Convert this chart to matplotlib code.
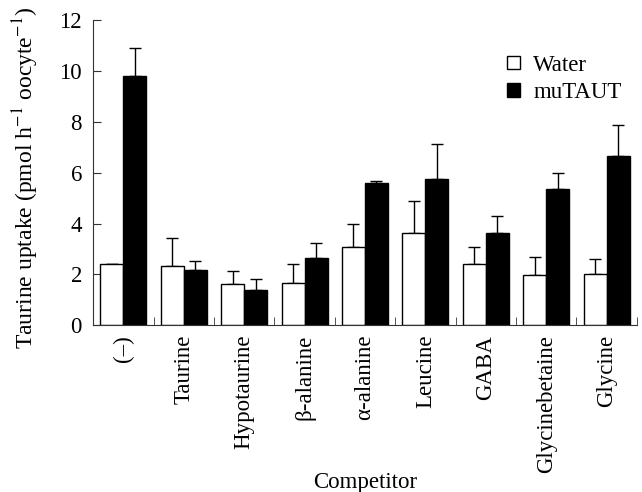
import numpy as np
import matplotlib
matplotlib.use('Agg')
import matplotlib.pyplot as plt

plt.rcParams['font.family'] = ['Liberation Serif', 'DejaVu Serif']
plt.rcParams['mathtext.fontset'] = 'stix'

# data
competitors = ['(–)', 'Taurine', 'Hypotaurine', 'β-alanine', 'α-alanine',
               'Leucine', 'GABA', 'Glycinebetaine', 'Glycine']
water = [2.39, 2.33, 1.63, 1.65, 3.08, 3.61, 2.40, 1.99, 2.03]
water_err = [0.0, 1.11, 0.52, 0.74, 0.91, 1.28, 0.66, 0.70, 0.57]
mutaut = [9.80, 2.19, 1.40, 2.65, 5.59, 5.77, 3.63, 5.35, 6.64]
mutaut_err = [1.11, 0.34, 0.40, 0.58, 0.08, 1.36, 0.65, 0.63, 1.23]

x = np.arange(len(competitors))
w = 0.38
fs = 16.5

fig = plt.figure(figsize=(6.42, 4.92), dpi=100)
ax = fig.add_axes([0.145, 0.339, 0.847, 0.620])

ax.bar(x - w / 2, water, w, color='white', edgecolor='black', linewidth=1,
       label='Water', zorder=2)
ax.bar(x + w / 2, mutaut, w, color='black', edgecolor='black', linewidth=1,
       label='muTAUT', zorder=2)
zeros = [0] * len(x)
ax.errorbar(x - w / 2, water, yerr=[zeros, water_err], fmt='none',
            ecolor='black', elinewidth=1, capsize=4, capthick=1, zorder=1)
ax.errorbar(x + w / 2, mutaut, yerr=[zeros, mutaut_err], fmt='none',
            ecolor='black', elinewidth=1, capsize=4, capthick=1, zorder=1)

ax.set_xlim(-0.5, len(x) - 0.5)
ax.set_ylim(0, 12)
ax.set_yticks([0, 2, 4, 6, 8, 10, 12])
ax.set_xticks(x)
ax.set_xticklabels(competitors, rotation=90)
ax.set_xticks(np.arange(0.5, len(x), 1), minor=True)
ax.tick_params(axis='x', which='major', length=0, pad=7, labelsize=fs)
ax.tick_params(axis='x', which='minor', direction='in', length=6, color='#333333')
ax.tick_params(axis='y', direction='in', length=6, pad=8, labelsize=fs, color='#333333')

for s in ['top', 'right']:
    ax.spines[s].set_visible(False)
for s in ['left', 'bottom']:
    ax.spines[s].set_color('#333333')

ax.set_ylabel('Taurine uptake (pmol h$^{-1}$ oocyte$^{-1}$)', fontsize=17)
ax.yaxis.set_label_coords(-0.095, 0.482)
ax.set_xlabel('Competitor', fontsize=fs)
ax.xaxis.set_label_coords(0.5, -0.48)

ax.legend(loc='upper right', bbox_to_anchor=(1.01, 0.955), frameon=False,
          fontsize=fs, handlelength=0.55, handleheight=0.55, handletextpad=0.6,
          labelspacing=0.28)

fig.savefig('out.png', dpi=100)
